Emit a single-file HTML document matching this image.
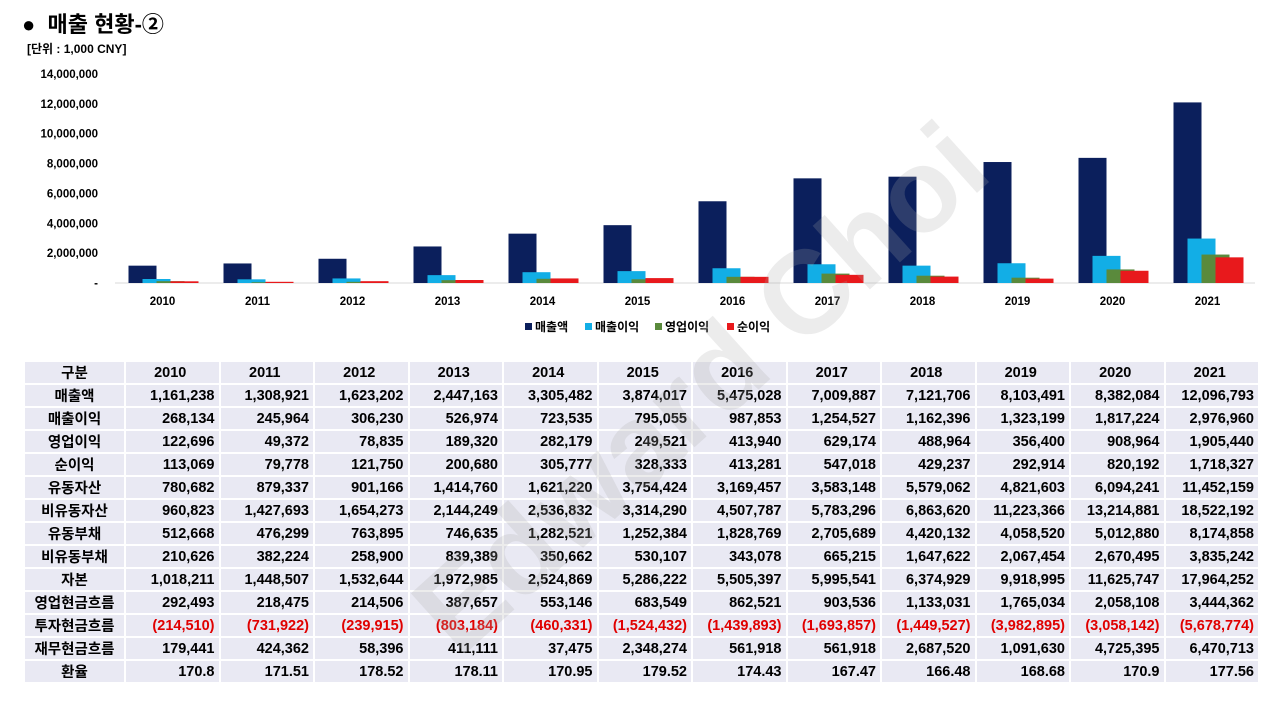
<!DOCTYPE html>
<html><head><meta charset="utf-8">
<style>
body{margin:0;width:1280px;height:720px;background:#fff;font-family:"Liberation Sans","Noto Sans CJK KR",sans-serif;position:relative;overflow:hidden}
#title{position:absolute;left:22px;top:7px;font-size:22px;font-weight:bold;color:#000}
#unit{position:absolute;left:27px;top:40px;font-size:12px;font-weight:bold}
svg{position:absolute;left:0;top:0}
table{position:absolute;left:23px;top:360px;border-collapse:collapse;font-size:14.5px;font-weight:bold;table-layout:fixed;width:1235px}
td{background:#e9e9f3;border:2px solid #fff;height:19.3px;padding:0 4px 0 0;text-align:right;overflow:hidden;white-space:nowrap}
td:first-child{text-align:center;padding:0}
tr.h td{text-align:center}
.neg{color:#e00000}
#wm{position:absolute;left:340px;top:320px;font-size:118px;font-weight:bold;color:rgba(170,170,170,0.22);transform:rotate(-42deg);transform-origin:center;white-space:nowrap;font-family:"Liberation Sans",sans-serif;pointer-events:none}
</style></head><body>
<div id="title">● &nbsp;매출 현황-②</div>
<div id="unit">[단위 : 1,000 CNY]</div>
<svg id="chart" width="1280" height="350"></svg>
<table>
<colgroup><col style="width:101px"><col span="12" style="width:94.5px"></colgroup>
<tr class="h"><td>구분</td><td>2010</td><td>2011</td><td>2012</td><td>2013</td><td>2014</td><td>2015</td><td>2016</td><td>2017</td><td>2018</td><td>2019</td><td>2020</td><td>2021</td></tr>
<tr><td>매출액</td><td>1,161,238</td><td>1,308,921</td><td>1,623,202</td><td>2,447,163</td><td>3,305,482</td><td>3,874,017</td><td>5,475,028</td><td>7,009,887</td><td>7,121,706</td><td>8,103,491</td><td>8,382,084</td><td>12,096,793</td></tr>
<tr><td>매출이익</td><td>268,134</td><td>245,964</td><td>306,230</td><td>526,974</td><td>723,535</td><td>795,055</td><td>987,853</td><td>1,254,527</td><td>1,162,396</td><td>1,323,199</td><td>1,817,224</td><td>2,976,960</td></tr>
<tr><td>영업이익</td><td>122,696</td><td>49,372</td><td>78,835</td><td>189,320</td><td>282,179</td><td>249,521</td><td>413,940</td><td>629,174</td><td>488,964</td><td>356,400</td><td>908,964</td><td>1,905,440</td></tr>
<tr><td>순이익</td><td>113,069</td><td>79,778</td><td>121,750</td><td>200,680</td><td>305,777</td><td>328,333</td><td>413,281</td><td>547,018</td><td>429,237</td><td>292,914</td><td>820,192</td><td>1,718,327</td></tr>
<tr><td>유동자산</td><td>780,682</td><td>879,337</td><td>901,166</td><td>1,414,760</td><td>1,621,220</td><td>3,754,424</td><td>3,169,457</td><td>3,583,148</td><td>5,579,062</td><td>4,821,603</td><td>6,094,241</td><td>11,452,159</td></tr>
<tr><td>비유동자산</td><td>960,823</td><td>1,427,693</td><td>1,654,273</td><td>2,144,249</td><td>2,536,832</td><td>3,314,290</td><td>4,507,787</td><td>5,783,296</td><td>6,863,620</td><td>11,223,366</td><td>13,214,881</td><td>18,522,192</td></tr>
<tr><td>유동부채</td><td>512,668</td><td>476,299</td><td>763,895</td><td>746,635</td><td>1,282,521</td><td>1,252,384</td><td>1,828,769</td><td>2,705,689</td><td>4,420,132</td><td>4,058,520</td><td>5,012,880</td><td>8,174,858</td></tr>
<tr><td>비유동부채</td><td>210,626</td><td>382,224</td><td>258,900</td><td>839,389</td><td>350,662</td><td>530,107</td><td>343,078</td><td>665,215</td><td>1,647,622</td><td>2,067,454</td><td>2,670,495</td><td>3,835,242</td></tr>
<tr><td>자본</td><td>1,018,211</td><td>1,448,507</td><td>1,532,644</td><td>1,972,985</td><td>2,524,869</td><td>5,286,222</td><td>5,505,397</td><td>5,995,541</td><td>6,374,929</td><td>9,918,995</td><td>11,625,747</td><td>17,964,252</td></tr>
<tr><td>영업현금흐름</td><td>292,493</td><td>218,475</td><td>214,506</td><td>387,657</td><td>553,146</td><td>683,549</td><td>862,521</td><td>903,536</td><td>1,133,031</td><td>1,765,034</td><td>2,058,108</td><td>3,444,362</td></tr>
<tr class="neg"><td style="color:#000">투자현금흐름</td><td>(214,510)</td><td>(731,922)</td><td>(239,915)</td><td>(803,184)</td><td>(460,331)</td><td>(1,524,432)</td><td>(1,439,893)</td><td>(1,693,857)</td><td>(1,449,527)</td><td>(3,982,895)</td><td>(3,058,142)</td><td>(5,678,774)</td></tr>
<tr><td>재무현금흐름</td><td>179,441</td><td>424,362</td><td>58,396</td><td>411,111</td><td>37,475</td><td>2,348,274</td><td>561,918</td><td>561,918</td><td>2,687,520</td><td>1,091,630</td><td>4,725,395</td><td>6,470,713</td></tr>
<tr><td>환율</td><td>170.8</td><td>171.51</td><td>178.52</td><td>178.11</td><td>170.95</td><td>179.52</td><td>174.43</td><td>167.47</td><td>166.48</td><td>168.68</td><td>170.9</td><td>177.56</td></tr>
</table>
<div id="wm">Edward Choi</div>
<script>
const years=['2010','2011','2012','2013','2014','2015','2016','2017','2018','2019','2020','2021'];
const sales=[1161238,1308921,1623202,2447163,3305482,3874017,5475028,7009887,7121706,8103491,8382084,12096793];
const grossProfit=[268134,245964,306230,526974,723535,795055,987853,1254527,1162396,1323199,1817224,2976960];
const opProfit=[122696,49372,78835,189320,282179,249521,413940,629174,488964,356400,908964,1905440];
const netProfit=[113069,79778,121750,200680,305777,328333,413281,547018,429237,292914,820192,1718327];
const yTicks=[0,2000000,4000000,6000000,8000000,10000000,12000000,14000000];
const seriesNames=['매출액','매출이익','영업이익','순이익'];
const colors=['#0b1f5c','#12aee6','#5a8a3c','#e8191c'];
const svg=document.getElementById('chart');const NS='http://www.w3.org/2000/svg';
const L=115,R=1255,B=283,T=74,maxV=14000000;
const y=v=>B-(v/maxV)*(B-T);
const bw=(R-L)/years.length;
const x=i=>L+bw*i+bw/2;
function mk(t,a){const e=document.createElementNS(NS,t);for(const k in a)e.setAttribute(k,a[k]);svg.appendChild(e);return e;}
yTicks.forEach(v=>{const t=mk('text',{x:98,y:y(v)+4,'text-anchor':'end','font-size':'11.5','font-weight':'bold'});


t.textContent=v===0?'-':v.toLocaleString('en-US');});
const base=mk('line',{x1:L,x2:R,y1:B,y2:B,stroke:'#d9d9d9','stroke-width':1});


const series=[sales,grossProfit,opProfit,netProfit];
const w=28;
years.forEach((yr,i)=>{
 series.forEach((s,k)=>{
  const r=mk('rect',{x:x(i)-34+k*14,y:y(s[i]),width:w,height:B-y(s[i]),fill:colors[k]});
  
  
 });
 const t=mk('text',{x:x(i),y:305,'text-anchor':'middle','font-size':'11.5','font-weight':'bold'});
 
 
 t.textContent=yr;
});
const lx=[525,585,655,727];
seriesNames.forEach((n,k)=>{
 const r=mk('rect',{x:lx[k],y:323,width:7,height:7,fill:colors[k]});
 
 
 const t=mk('text',{x:lx[k]+10,y:331,'font-size':'12','font-weight':'bold'});
 
 
 t.textContent=n;
});
</script>
</body></html>
